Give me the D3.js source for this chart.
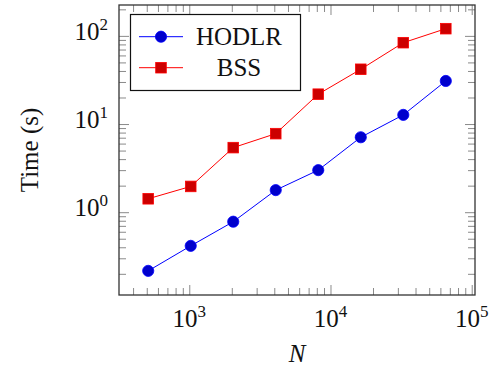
<!DOCTYPE html>
<html>
<head>
<meta charset="utf-8">
<script src="https://cdn.jsdelivr.net/npm/d3@7"></script>
<style>
  body { margin: 0; background: #fff; }
</style>
</head>
<body>
<svg id="chart" width="493" height="368"></svg>
<script>
// problem sizes N
var sizes = [512, 1024, 2048, 4096, 8192, 16384, 32768, 65536];
// time in seconds
var hodlrTime = [0.216, 0.415, 0.78, 1.78, 3.0, 7.08, 12.7, 30.8];
var bssTime = [1.42, 1.96, 5.4, 7.78, 21.8, 41.8, 83.7, 120.7];
var seriesNames = ["HODLR", "BSS"];
var xMajor = [3, 4, 5];      // exponents of 10
var yMajor = [0, 1, 2];

var W = 493, H = 368;
var box = {left: 119, right: 475, top: 5, bottom: 295};
var FONT = "Liberation Serif";

var svg = d3.select('#chart')
	.style('font-family', FONT);

var x = d3.scaleLog().domain([318, 105500]).range([box.left, box.right]);
var y = d3.scaleLog().domain([0.115, 224]).range([box.bottom, box.top]);

// minor ticks = all log ticks that are not powers of ten
var isPow = function(v){ return Math.abs(Math.log10(v) - Math.round(Math.log10(v))) < 1e-9; };
var xMinor = x.ticks().filter(function(v){ return !isPow(v); });
var yMinor = y.ticks().filter(function(v){ return !isPow(v); });
var xMaj = xMajor.map(function(e){ return Math.pow(10, e); });
var yMaj = yMajor.map(function(e){ return Math.pow(10, e); });

var tickColor = '#8a8a8a';

function drawAxis(axisFn, scale, values, len, tx, ty){
	var g = svg.append('g')
		.attr('transform', 'translate(' + tx + ',' + ty + ')')
		.call(axisFn(scale).tickValues(values).tickSize(len).tickSizeOuter(0).tickFormat(''));
	g.select('.domain').remove();
	g.selectAll('.tick line').attr('stroke', tickColor).attr('stroke-width', 1);
	return g;
}

// ticks pointing inward on all four sides
[[xMinor, 7], [xMaj, 10]].forEach(function(t){
	drawAxis(d3.axisBottom, x, t[0], -t[1], 0, box.bottom);
	drawAxis(d3.axisTop, x, t[0], -t[1], 0, box.top);
});
[[yMinor, 7], [yMaj, 10]].forEach(function(t){
	drawAxis(d3.axisLeft, y, t[0], -t[1], box.left, 0);
	drawAxis(d3.axisRight, y, t[0], -t[1], box.right, 0);
});

// frame
svg.append('rect')
	.attr('x', box.left).attr('y', box.top)
	.attr('width', box.right - box.left).attr('height', box.bottom - box.top)
	.attr('fill', 'none').attr('stroke', '#333').attr('stroke-width', 1.3);

// tick labels 10^k
function powLabel(sel, e){
	sel.append('tspan').style('font-size', '25px').text('10');
	sel.append('tspan').style('font-size', '17px').attr('dy', -10).text(e);
}
xMajor.forEach(function(e){
	var t = svg.append('text')
		.attr('x', x(Math.pow(10, e))).attr('y', 327)
		.attr('text-anchor', 'middle').attr('fill', '#111');
	powLabel(t, e);
});
yMajor.forEach(function(e){
	var t = svg.append('text')
		.attr('x', 108).attr('y', y(Math.pow(10, e)) + 4)
		.attr('text-anchor', 'end').attr('fill', '#111');
	powLabel(t, e);
});

// axis titles
svg.append('text')
	.attr('transform', 'translate(38,' + ((box.top + box.bottom) / 2) + ') rotate(-90)')
	.attr('text-anchor', 'middle').style('font-size', '25px').attr('fill', '#111')
	.text('Time (s)');
svg.append('text')
	.attr('x', (box.left + box.right) / 2).attr('y', 362)
	.attr('text-anchor', 'middle').style('font-size', '25px').style('font-style', 'italic').attr('fill', '#111')
	.text('N');

// series
var series = [
	{name: seriesNames[0], vals: hodlrTime, line: '#0000ff', fill: '#0000cc', mark: 'circle'},
	{name: seriesNames[1], vals: bssTime, line: '#ff0000', fill: '#cc0000', mark: 'square'}
];

var line = d3.line()
	.x(function(d){ return x(d[0]); })
	.y(function(d){ return y(d[1]); });

function drawMark(g, s, cx, cy){
	if(s.mark === 'circle')
		g.append('circle').attr('cx', cx).attr('cy', cy).attr('r', 5.6)
			.attr('fill', s.fill).attr('stroke', s.line).attr('stroke-width', 0.8);
	else
		g.append('rect').attr('x', cx - 5.3).attr('y', cy - 5.3).attr('width', 10.6).attr('height', 10.6)
			.attr('fill', s.fill).attr('stroke', s.line).attr('stroke-width', 0.8);
}

series.forEach(function(s){
	var pts = sizes.map(function(n, i){ return [n, s.vals[i]]; });
	svg.append('path').attr('d', line(pts))
		.attr('fill', 'none').attr('stroke', s.line).attr('stroke-width', 1);
	var g = svg.append('g');
	pts.forEach(function(p){ drawMark(g, s, x(p[0]), y(p[1])); });
});

// legend
var leg = svg.append('g');
leg.append('rect')
	.attr('x', 130.5).attr('y', 14.5).attr('width', 170).attr('height', 76)
	.attr('fill', '#fff').attr('stroke', '#111').attr('stroke-width', 1.2);
var rows = [36.7, 67.7];
series.forEach(function(s, i){
	leg.append('line').attr('x1', 139).attr('x2', 183).attr('y1', rows[i]).attr('y2', rows[i])
		.attr('stroke', s.line).attr('stroke-width', 1);
	drawMark(leg, s, 161, rows[i]);
	leg.append('text').attr('x', 239).attr('y', rows[i] + 8)
		.attr('text-anchor', 'middle').style('font-size', '25px').attr('fill', '#111')
		.text(s.name);
});
</script>
</body>
</html>
